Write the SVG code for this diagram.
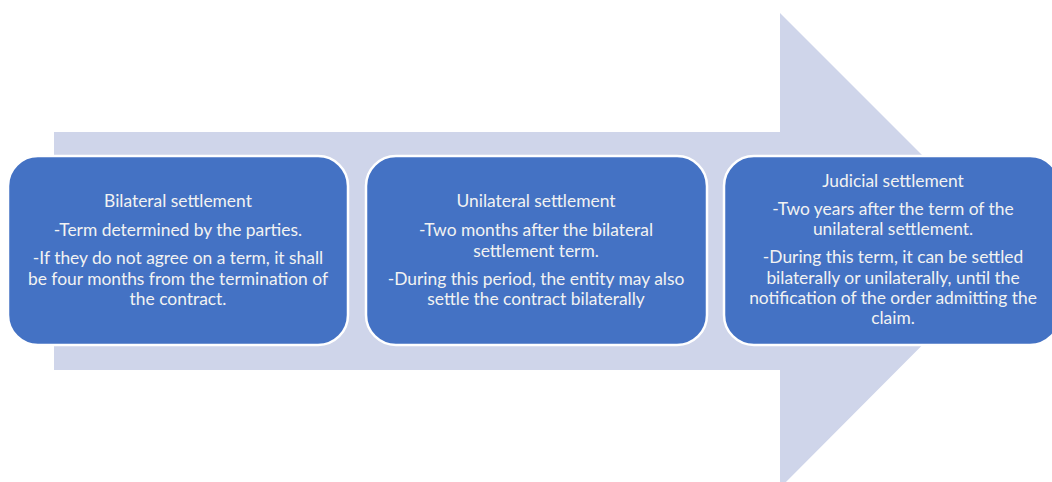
<svg xmlns="http://www.w3.org/2000/svg" width="1052" height="482" viewBox="0 0 1052 482">
  <style>
    .box { fill: #4472C4; stroke: #FFFFFF; stroke-width: 2.5; }
    .label { font-family: Lato, "Open Sans", sans-serif; font-size: 17.4px; fill: #F2F2F2; text-anchor: middle; }
  </style>
  <rect width="1052" height="482" fill="#FFFFFF"/>
  <!-- background process arrow -->
  <g id="arrow">
    <polygon points="54,132 780,132 780,13 1017,250 780,488 780,370 54,370" fill="#CFD5EA"/>
  </g>
  <g id="connectors"></g>
  <g id="node-bilateral">
    <rect class="box" x="8" y="156" width="340" height="189" rx="30" ry="30"/>
    <text class="label" x="178" y="207">Bilateral settlement</text>
    <text class="label" x="178" y="236">-Term determined by the parties.</text>
    <text class="label" x="178" y="264">-If they do not agree on a term, it shall</text>
    <text class="label" x="178" y="285">be four months from the termination of</text>
    <text class="label" x="178" y="305">the contract.</text>
  </g>
  <g id="node-unilateral">
    <rect class="box" x="366" y="156" width="341" height="189" rx="30" ry="30"/>
    <text class="label" x="536" y="207">Unilateral settlement</text>
    <text class="label" x="536" y="236">-Two months after the bilateral</text>
    <text class="label" x="536" y="257">settlement term.</text>
    <text class="label" x="536" y="285">-During this period, the entity may also</text>
    <text class="label" x="536" y="305">settle the contract bilaterally</text>
  </g>
  <g id="node-judicial">
    <rect class="box" x="724" y="156" width="336" height="189" rx="30" ry="30"/>
    <text class="label" x="893" y="187">Judicial settlement</text>
    <text class="label" x="893" y="215">-Two years after the term of the</text>
    <text class="label" x="893" y="235">unilateral settlement.</text>
    <text class="label" x="893" y="263">-During this term, it can be settled</text>
    <text class="label" x="893" y="284">bilaterally or unilaterally, until the</text>
    <text class="label" x="893" y="304">notification of the order admitting the</text>
    <text class="label" x="893" y="324">claim.</text>
  </g>
</svg>
